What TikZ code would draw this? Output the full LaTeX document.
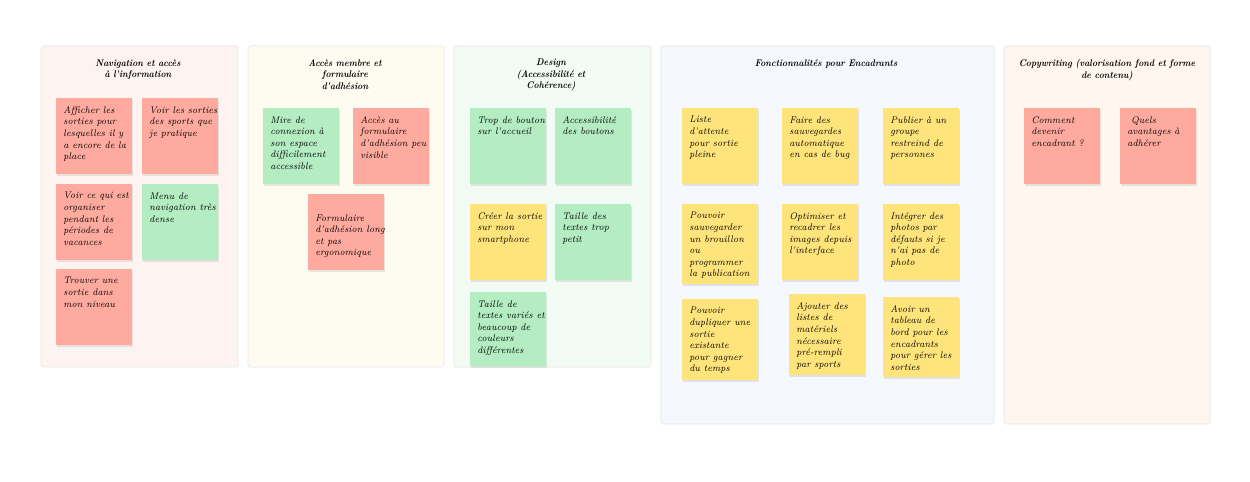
\documentclass[tikz,border=0pt]{standalone}
\usepackage{fontspec}
\usepackage{tikz}
\usetikzlibrary{shadows}
\usetikzlibrary{positioning}

\newfontfamily\notefont{Latin Modern Roman}[FakeStretch=0.9]

\definecolor{noteRed}{HTML}{FFAA9E}
\definecolor{noteGreen}{HTML}{B3EDC1}
\definecolor{noteYellow}{HTML}{FFE47C}
\definecolor{panelRose}{HTML}{FDF4F2}
\definecolor{panelCream}{HTML}{FEFCF1}
\definecolor{panelMint}{HTML}{F3FBF5}
\definecolor{panelSky}{HTML}{F5F9FD}
\definecolor{panelPeach}{HTML}{FEF6EF}
\definecolor{panelLine}{HTML}{E6E6E6}

\tikzset{
  panel/.style={draw=panelLine, line width=0.4pt, rounded corners=1pt},
  paneltitle/.style={align=center, inner sep=0pt, anchor=north,
    font=\notefont\fontsize{5.5}{6.5}\selectfont\itshape\bfseries},
  sticky/.style={anchor=north west, inner sep=0pt, minimum width=1.52cm,
    minimum height=1.52cm,
    drop shadow={shadow xshift=0.2pt, shadow yshift=-0.7pt, opacity=0.18}},
  notetext/.style={anchor=north west, align=left, inner sep=0pt,
    xshift=1.4mm, yshift=-1.6mm, font=\notefont\fontsize{5.5}{6.6}\selectfont\itshape}
}

\begin{document}
\begin{tikzpicture}[x=0.02cm, y=-0.02cm]
  \useasboundingbox[fill=white] (0,0) rectangle (1250,482);

  %% panels
  \draw[panel, fill=panelRose] (41,46) rectangle (238,367);
  \draw[panel, fill=panelCream] (248,46) rectangle (444,367);
  \draw[panel, fill=panelMint] (454,46) rectangle (651,367);
  \draw[panel, fill=panelSky] (661,46) rectangle (994,424);
  \draw[panel, fill=panelPeach] (1004,46) rectangle (1210,424);

  %% navigation
  \node[paneltitle] (navT) at (138,59) {Navigation et accès\\à l'information};

  \node[sticky, fill=noteRed] (nav1) at (56,98) {};
  \node[notetext] (nav1t) at (nav1.north west) {Afficher les\\sorties pour\\lesquelles il y\\a encore de la\\place};
  \node[sticky, fill=noteRed] (nav2) at (142,98) {};
  \node[notetext] (nav2t) at (nav2.north west) {Voir les sorties\\des sports que\\je pratique};

  \node[sticky, fill=noteRed] (nav3) at (56,184) {};
  \node[notetext] (nav3t) at (nav3.north west) {Voir ce qui est\\organiser\\pendant les\\périodes de\\vacances};
  \node[sticky, fill=noteGreen] (nav4) at (142,184) {};
  \node[notetext] (nav4t) at (nav4.north west) {Menu de\\navigation très\\dense};

  \node[sticky, fill=noteRed] (nav5) at (56,269) {};
  \node[notetext] (nav5t) at (nav5.north west) {Trouver une\\sortie dans\\mon niveau};

  %% membre
  \node[paneltitle] (memT) at (345,59) {Accès membre et\\formulaire\\d'adhésion};

  \node[sticky, fill=noteGreen] (mem1) at (263,108) {};
  \node[notetext] (mem1t) at (mem1.north west) {Mire de\\connexion à\\son espace\\difficilement\\accessible};
  \node[sticky, fill=noteRed] (mem2) at (353,108) {};
  \node[notetext] (mem2t) at (mem2.north west) {Accès au\\formulaire\\d'adhésion peu\\visible};

  \node[sticky, fill=noteRed] (mem3) at (308,194) {};
  \node[notetext, yshift=-2.4mm] (mem3t) at (mem3.north west) {Formulaire\\d'adhésion long\\et pas\\ergonomique};

  %% design
  \node[paneltitle] (desT) at (551,59) {Design\\(Accessibilité et\\Cohérence)};

  \node[sticky, fill=noteGreen] (des1) at (470,108) {};
  \node[notetext] (des1t) at (des1.north west) {Trop de bouton\\sur l'accueil};
  \node[sticky, fill=noteGreen] (des2) at (555,108) {};
  \node[notetext] (des2t) at (des2.north west) {Accessibilité\\des boutons};

  \node[sticky, fill=noteYellow] (des3) at (470,204) {};
  \node[notetext] (des3t) at (des3.north west) {Créer la sortie\\sur mon\\smartphone};
  \node[sticky, fill=noteGreen] (des4) at (555,204) {};
  \node[notetext] (des4t) at (des4.north west) {Taille des\\textes trop\\petit};

  \node[sticky, fill=noteGreen, minimum height=1.48cm] (des5) at (470,292) {};
  \node[notetext] (des5t) at (des5.north west) {Taille de\\textes variés et\\beaucoup de\\couleurs\\différentes};

  %% encadrants
  \node[paneltitle] (encT) at (826,59) {Fonctionnalités pour Encadrants};

  \node[sticky, fill=noteYellow] (enc1) at (682,108) {};
  \node[notetext] (enc1t) at (enc1.north west) {Liste\\d'attente\\pour sortie\\pleine};
  \node[sticky, fill=noteYellow] (enc2) at (782,108) {};
  \node[notetext] (enc2t) at (enc2.north west) {Faire des\\sauvegardes\\automatique\\en cas de bug};
  \node[sticky, fill=noteYellow] (enc3) at (883,108) {};
  \node[notetext] (enc3t) at (enc3.north west) {Publier à un\\groupe\\restreind de\\personnes};

  \node[sticky, fill=noteYellow, minimum height=1.6cm] (enc4) at (682,204) {};
  \node[notetext] (enc4t) at (enc4.north west) {Pouvoir\\sauvegarder\\un brouillon\\ou\\programmer\\la publication};
  \node[sticky, fill=noteYellow] (enc5) at (782,204) {};
  \node[notetext] (enc5t) at (enc5.north west) {Optimiser et\\recadrer les\\images depuis\\l'interface};
  \node[sticky, fill=noteYellow] (enc6) at (883,204) {};
  \node[notetext] (enc6t) at (enc6.north west) {Intégrer des\\photos par\\défauts si je\\n'ai pas de\\photo};

  \node[sticky, fill=noteYellow, minimum height=1.62cm] (enc7) at (682,299) {};
  \node[notetext] (enc7t) at (enc7.north west) {Pouvoir\\dupliquer une\\sortie\\existante\\pour gagner\\du temps};
  \node[sticky, fill=noteYellow, minimum height=1.62cm] (enc8) at (789,294) {};
  \node[notetext] (enc8t) at (enc8.north west) {Ajouter des\\listes de\\matériels\\nécessaire\\pré-rempli\\par sports};
  \node[sticky, fill=noteYellow, minimum height=1.6cm] (enc9) at (883,297) {};
  \node[notetext] (enc9t) at (enc9.north west) {Avoir un\\tableau de\\bord pour les\\encadrants\\pour gérer les\\sorties};

  %% copywriting
  \node[paneltitle] (copT) at (1107,59) {Copywriting (valorisation fond et forme\\de contenu)};

  \node[sticky, fill=noteRed] (cop1) at (1024,108) {};
  \node[notetext] (cop1t) at (cop1.north west) {Comment\\devenir\\encadrant ?};
  \node[sticky, fill=noteRed] (cop2) at (1120,108) {};
  \node[notetext] (cop2t) at (cop2.north west) {\ Quels\\avantages à\\adhérer};
\end{tikzpicture}
\end{document}
